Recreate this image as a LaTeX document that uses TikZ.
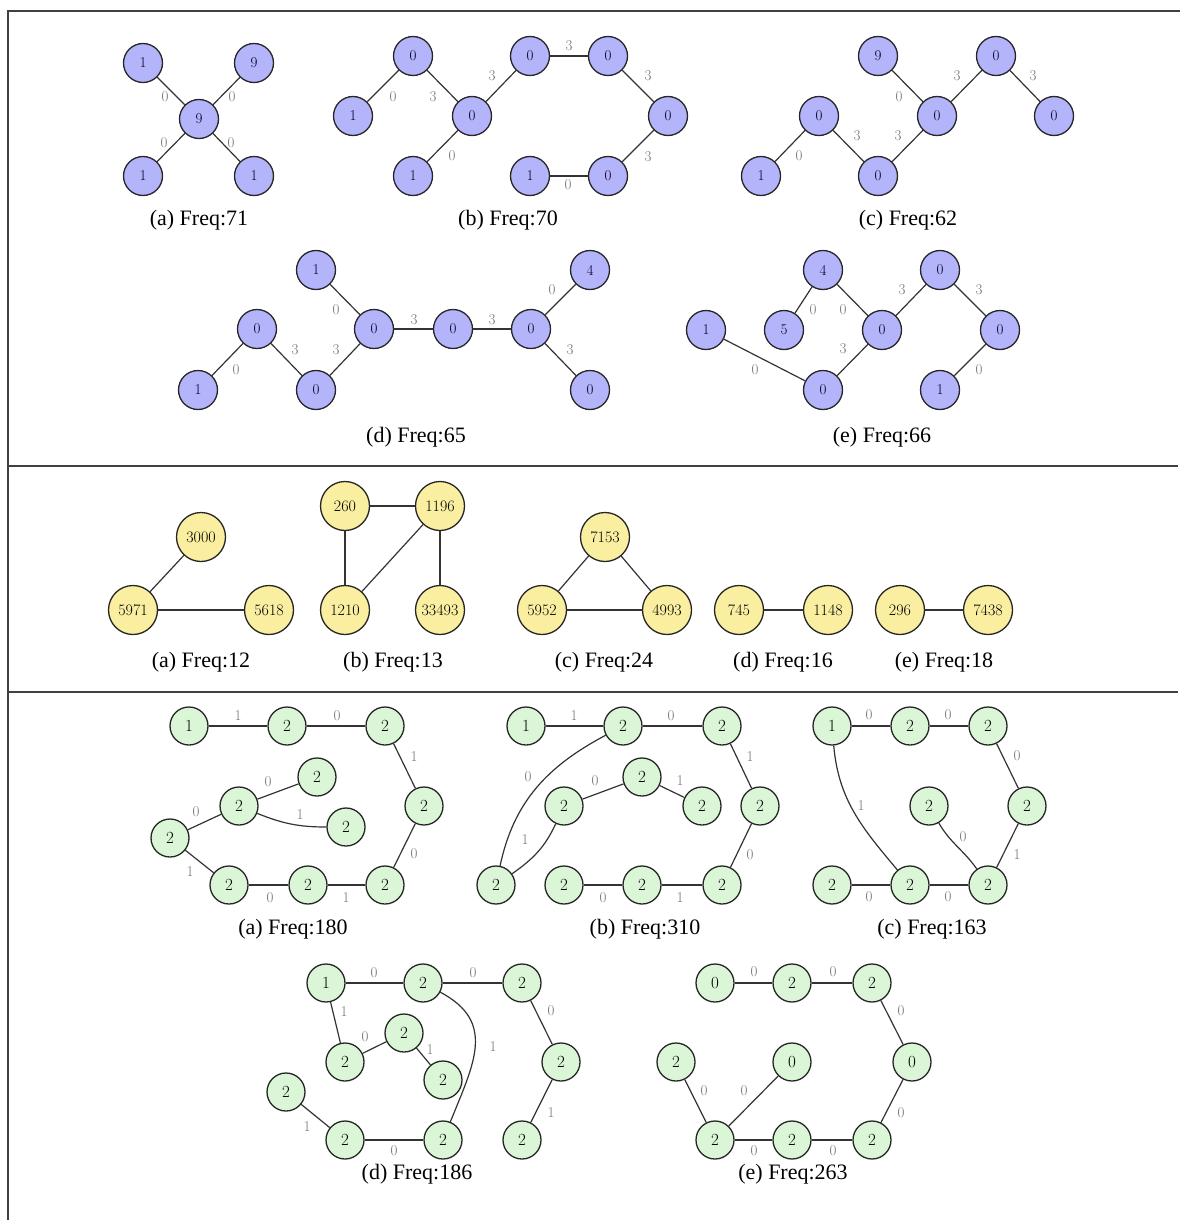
\documentclass[tikz,border=0pt]{standalone}
\usepackage{fontspec}
\newfontfamily\capfont{Liberation Serif}
\definecolor{nodeblue}{RGB}{180,180,250}
\definecolor{nodeyellow}{RGB}{250,238,160}
\definecolor{nodegreen}{RGB}{218,246,214}
\begin{document}
\begin{tikzpicture}[x=1pt,y=-1pt,
  vb/.style={circle,draw=black!85,line width=1.3pt,fill=nodeblue,minimum size=39pt,inner sep=0pt,text=black!85!blue,font=\fontsize{15}{15}\selectfont},
  yb/.style={circle,draw=black!85,line width=1.3pt,fill=nodeyellow,minimum size=49pt,inner sep=0pt,font=\fontsize{16}{16}\selectfont},
  gb/.style={circle,draw=black!85,line width=1.3pt,fill=nodegreen,minimum size=38pt,inner sep=0pt,font=\fontsize{17}{17}\selectfont},
  ed/.style={line width=1.2pt,draw=black!80},
  el/.style={text=black!55,font=\fontsize{15}{15}\selectfont,inner sep=0pt},
  captxt/.style={font=\capfont\fontsize{22}{22}\selectfont},
  frameline/.style={line width=1.5pt,draw=black!75}]

\useasboundingbox (0,0) rectangle (1180,1220);

% frame and separators
\coordinate (fbl) at (8,1220);
\coordinate (ftl) at (8,11);
\coordinate (ftr) at (1180,11);
\coordinate (s1l) at (8,466);
\coordinate (s1r) at (1178,466);
\coordinate (s2l) at (8,692);
\coordinate (s2r) at (1178,692);
\draw[frameline] (fbl) -- (ftl) -- (ftr);
\draw[frameline] (s1l) -- (s1r);
\draw[frameline] (s2l) -- (s2r);

%%%%%%%%%%%%%%%% Section 1 %%%%%%%%%%%%%%%%
% (a)
\node[vb] (a1c) at (199,119) {9};
\node[vb] (a1tl) at (143,63) {1};
\node[vb] (a1tr) at (254,63) {9};
\node[vb] (a1bl) at (143,176) {1};
\node[vb] (a1br) at (254,176) {1};
\draw[ed] (a1c) -- (a1tl);
\draw[ed] (a1c) -- (a1tr);
\draw[ed] (a1c) -- (a1bl);
\draw[ed] (a1c) -- (a1br);
\node[el] (a1e1) at (165,97) {0};
\node[el] (a1e2) at (232,97) {0};
\node[el] (a1e3) at (164,143) {0};
\node[el] (a1e4) at (231,143) {0};
\node[captxt] (a1cap) at (199,220) {(a) Freq:71};

% (b)
\node[vb] (b1t) at (413,56) {0};
\node[vb] (b1l) at (353,116) {1};
\node[vb] (b1c) at (472,116) {0};
\node[vb] (b1bl) at (413,176) {1};
\node[vb] (b1tm) at (530,56) {0};
\node[vb] (b1tr) at (608,56) {0};
\node[vb] (b1r) at (668,116) {0};
\node[vb] (b1br) at (608,176) {0};
\node[vb] (b1bm) at (530,176) {1};
\draw[ed] (b1l) -- (b1t);
\draw[ed] (b1t) -- (b1c);
\draw[ed] (b1c) -- (b1bl);
\draw[ed] (b1c) -- (b1tm);
\draw[ed] (b1tm) -- (b1tr);
\draw[ed] (b1tr) -- (b1r);
\draw[ed] (b1r) -- (b1br);
\draw[ed] (b1br) -- (b1bm);
\node[el] (b1e1) at (393,97) {0};
\node[el] (b1e2) at (433,97) {3};
\node[el] (b1e3) at (452,156) {0};
\node[el] (b1e4) at (492,76) {3};
\node[el] (b1e5) at (569,46) {3};
\node[el] (b1e6) at (648,76) {3};
\node[el] (b1e7) at (648,157) {3};
\node[el] (b1e8) at (568,185) {0};
\node[captxt] (b1cap) at (508,220) {(b) Freq:70};

% (c)
\node[vb] (c1n9) at (878,56) {9};
\node[vb] (c1t) at (996,56) {0};
\node[vb] (c1l) at (819,116) {0};
\node[vb] (c1c) at (937,116) {0};
\node[vb] (c1r) at (1054,116) {0};
\node[vb] (c1one) at (761,176) {1};
\node[vb] (c1b) at (878,176) {0};
\draw[ed] (c1one) -- (c1l);
\draw[ed] (c1l) -- (c1b);
\draw[ed] (c1b) -- (c1c);
\draw[ed] (c1n9) -- (c1c);
\draw[ed] (c1c) -- (c1t);
\draw[ed] (c1t) -- (c1r);
\node[el] (c1e1) at (799,156) {0};
\node[el] (c1e2) at (857,136) {3};
\node[el] (c1e3) at (898,136) {3};
\node[el] (c1e4) at (899,97) {0};
\node[el] (c1e5) at (957,76) {3};
\node[el] (c1e6) at (1033,76) {3};
\node[captxt] (c1cap) at (908,220) {(c) Freq:62};

% (d)
\node[vb] (d1t) at (316,270) {1};
\node[vb] (d1l) at (257,329) {0};
\node[vb] (d1bl) at (198,390) {1};
\node[vb] (d1b) at (316,390) {0};
\node[vb] (d1c) at (374,329) {0};
\node[vb] (d1m) at (453,329) {0};
\node[vb] (d1r) at (531,329) {0};
\node[vb] (d1four) at (590,270) {4};
\node[vb] (d1br) at (590,390) {0};
\draw[ed] (d1bl) -- (d1l);
\draw[ed] (d1l) -- (d1b);
\draw[ed] (d1b) -- (d1c);
\draw[ed] (d1t) -- (d1c);
\draw[ed] (d1c) -- (d1m);
\draw[ed] (d1m) -- (d1r);
\draw[ed] (d1r) -- (d1four);
\draw[ed] (d1r) -- (d1br);
\node[el] (d1e1) at (236,370) {0};
\node[el] (d1e2) at (295,350) {3};
\node[el] (d1e3) at (336,350) {3};
\node[el] (d1e4) at (336,310) {0};
\node[el] (d1e5) at (414,320) {3};
\node[el] (d1e6) at (492,320) {3};
\node[el] (d1e7) at (552,290) {0};
\node[el] (d1e8) at (570,350) {3};
\node[captxt] (d1cap) at (416,437) {(d) Freq:65};

% (e)
\node[vb] (e1one) at (706,330) {1};
\node[vb] (e1five) at (784,330) {5};
\node[vb] (e1four) at (823,270) {4};
\node[vb] (e1c) at (882,330) {0};
\node[vb] (e1b) at (823,390) {0};
\node[vb] (e1t) at (940,270) {0};
\node[vb] (e1r) at (1000,330) {0};
\node[vb] (e1br) at (940,390) {1};
\draw[ed] (e1one) -- (e1b);
\draw[ed] (e1five) -- (e1four);
\draw[ed] (e1four) -- (e1c);
\draw[ed] (e1c) -- (e1b);
\draw[ed] (e1c) -- (e1t);
\draw[ed] (e1t) -- (e1r);
\draw[ed] (e1r) -- (e1br);
\node[el] (e1e1) at (755,370) {0};
\node[el] (e1e2) at (813,310) {0};
\node[el] (e1e3) at (843,310) {0};
\node[el] (e1e4) at (843,349) {3};
\node[el] (e1e5) at (902,290) {3};
\node[el] (e1e6) at (979,290) {3};
\node[el] (e1e7) at (979,370) {0};
\node[captxt] (e1cap) at (882,437) {(e) Freq:66};

%%%%%%%%%%%%%%%% Section 2 %%%%%%%%%%%%%%%%
\node[yb] (a2t) at (201,537) {3000};
\node[yb] (a2l) at (133,610) {5971};
\node[yb] (a2r) at (269,610) {5618};
\draw[ed] (a2l) -- (a2t);
\draw[ed] (a2l) -- (a2r);
\node[captxt] (a2cap) at (201,662) {(a) Freq:12};

\node[yb] (b2tl) at (345,506) {260};
\node[yb] (b2tr) at (440,506) {1196};
\node[yb] (b2bl) at (345,610) {1210};
\node[yb] (b2br) at (440,610) {33493};
\draw[ed] (b2tl) -- (b2tr);
\draw[ed] (b2tl) -- (b2bl);
\draw[ed] (b2tr) -- (b2bl);
\draw[ed] (b2tr) -- (b2br);
\node[captxt] (b2cap) at (393,662) {(b) Freq:13};

\node[yb] (c2t) at (605,537) {7153};
\node[yb] (c2l) at (542,610) {5952};
\node[yb] (c2r) at (667,610) {4993};
\draw[ed] (c2l) -- (c2t);
\draw[ed] (c2t) -- (c2r);
\draw[ed] (c2l) -- (c2r);
\node[captxt] (c2cap) at (604,662) {(c) Freq:24};

\node[yb] (d2l) at (739,610) {745};
\node[yb] (d2r) at (828,610) {1148};
\draw[ed] (d2l) -- (d2r);
\node[captxt] (d2cap) at (783,662) {(d) Freq:16};

\node[yb] (e2l) at (900,610) {296};
\node[yb] (e2r) at (988,610) {7438};
\draw[ed] (e2l) -- (e2r);
\node[captxt] (e2cap) at (944,662) {(e) Freq:18};

%%%%%%%%%%%%%%%% Section 3 %%%%%%%%%%%%%%%%
% (a)
\node[gb] (a3one) at (189,726) {1};
\node[gb] (a3tm) at (287,726) {2};
\node[gb] (a3tr) at (385,726) {2};
\node[gb] (a3r) at (424,806) {2};
\node[gb] (a3br) at (385,885) {2};
\node[gb] (a3bm) at (308,885) {2};
\node[gb] (a3bl) at (229,885) {2};
\node[gb] (a3l) at (170,838) {2};
\node[gb] (a3in) at (239,806) {2};
\node[gb] (a3it) at (317,777) {2};
\node[gb] (a3ir) at (346,827) {2};
\draw[ed] (a3one) -- (a3tm);
\draw[ed] (a3tm) -- (a3tr);
\draw[ed] (a3tr) -- (a3r);
\draw[ed] (a3r) -- (a3br);
\draw[ed] (a3br) -- (a3bm);
\draw[ed] (a3bm) -- (a3bl);
\draw[ed] (a3bl) -- (a3l);
\draw[ed] (a3l) -- (a3in);
\draw[ed] (a3in) -- (a3it);
\draw[ed] (a3in) to[out=-22,in=180] (a3ir);
\node[el] (a3e1) at (238,716) {1};
\node[el] (a3e2) at (337,716) {0};
\node[el] (a3e3) at (414,757) {1};
\node[el] (a3e4) at (414,854) {0};
\node[el] (a3e5) at (346,898) {1};
\node[el] (a3e6) at (270,898) {0};
\node[el] (a3e7) at (190,872) {1};
\node[el] (a3e8) at (196,812) {0};
\node[el] (a3e9) at (268,782) {0};
\node[el] (a3e10) at (300,815) {1};
\node[captxt] (a3cap) at (293,929) {(a) Freq:180};

% (b)
\node[gb] (b3one) at (526,726) {1};
\node[gb] (b3tm) at (623,726) {2};
\node[gb] (b3tr) at (722,726) {2};
\node[gb] (b3r) at (760,806) {2};
\node[gb] (b3br) at (722,885) {2};
\node[gb] (b3bm) at (642,885) {2};
\node[gb] (b3bl) at (564,885) {2};
\node[gb] (b3fl) at (496,885) {2};
\node[gb] (b3in) at (564,806) {2};
\node[gb] (b3it) at (642,777) {2};
\node[gb] (b3ir) at (702,806) {2};
\draw[ed] (b3one) -- (b3tm);
\draw[ed] (b3tm) -- (b3tr);
\draw[ed] (b3tr) -- (b3r);
\draw[ed] (b3r) -- (b3br);
\draw[ed] (b3br) -- (b3bm);
\draw[ed] (b3bm) -- (b3bl);
\draw[ed] (b3in) -- (b3it);
\draw[ed] (b3it) -- (b3ir);
\draw[ed] (b3fl) to[out=35,in=-115] (b3in);
\draw[ed] (b3fl) to[out=78,in=208] (b3tm);
\node[el] (b3e1) at (574,716) {1};
\node[el] (b3e2) at (671,716) {0};
\node[el] (b3e3) at (750,757) {1};
\node[el] (b3e4) at (750,855) {0};
\node[el] (b3e5) at (680,898) {1};
\node[el] (b3e6) at (603,898) {0};
\node[el] (b3e7) at (595,781) {0};
\node[el] (b3e8) at (680,781) {1};
\node[el] (b3e9) at (525,840) {1};
\node[el] (b3e10) at (528,777) {0};
\node[captxt] (b3cap) at (645,929) {(b) Freq:310};

% (c)
\node[gb] (c3one) at (832,726) {1};
\node[gb] (c3tm) at (910,726) {2};
\node[gb] (c3tr) at (988,726) {2};
\node[gb] (c3r) at (1027,806) {2};
\node[gb] (c3in) at (929,806) {2};
\node[gb] (c3br) at (988,885) {2};
\node[gb] (c3bm) at (910,885) {2};
\node[gb] (c3bl) at (832,885) {2};
\draw[ed] (c3one) -- (c3tm);
\draw[ed] (c3tm) -- (c3tr);
\draw[ed] (c3tr) -- (c3r);
\draw[ed] (c3r) -- (c3br);
\draw[ed] (c3br) -- (c3bm);
\draw[ed] (c3bm) -- (c3bl);
\draw[ed] (c3one) to[out=-85,in=130] (c3bm);
\draw[ed] (c3in) to[out=-60,in=125] (c3br);
\node[el] (c3e1) at (869,715) {0};
\node[el] (c3e2) at (948,715) {0};
\node[el] (c3e3) at (1017,756) {0};
\node[el] (c3e4) at (1017,855) {1};
\node[el] (c3e5) at (948,897) {0};
\node[el] (c3e6) at (869,897) {0};
\node[el] (c3e7) at (861,806) {1};
\node[el] (c3e8) at (963,837) {0};
\node[captxt] (c3cap) at (932,929) {(c) Freq:163};

% (d)
\node[gb] (d3one) at (326,983) {1};
\node[gb] (d3tm) at (423,983) {2};
\node[gb] (d3tr) at (522,983) {2};
\node[gb] (d3r) at (561,1062) {2};
\node[gb] (d3br) at (522,1140) {2};
\node[gb] (d3ia) at (345,1062) {2};
\node[gb] (d3it) at (404,1033) {2};
\node[gb] (d3ir) at (443,1080) {2};
\node[gb] (d3fl) at (286,1092) {2};
\node[gb] (d3bl) at (345,1140) {2};
\node[gb] (d3bm) at (443,1140) {2};
\draw[ed] (d3one) -- (d3tm);
\draw[ed] (d3tm) -- (d3tr);
\draw[ed] (d3tr) -- (d3r);
\draw[ed] (d3r) -- (d3br);
\draw[ed] (d3one) -- (d3ia);
\draw[ed] (d3ia) -- (d3it);
\draw[ed] (d3it) -- (d3ir);
\draw[ed] (d3fl) -- (d3bl);
\draw[ed] (d3bl) -- (d3bm);
\draw[ed] (d3tm) to[out=-28,in=68,looseness=1.25] (d3bm);
\node[el] (d3e1) at (374,973) {0};
\node[el] (d3e2) at (473,973) {0};
\node[el] (d3e3) at (551,1011) {0};
\node[el] (d3e4) at (551,1113) {1};
\node[el] (d3e5) at (344,1012) {1};
\node[el] (d3e6) at (365,1037) {0};
\node[el] (d3e7) at (430,1050) {1};
\node[el] (d3e8) at (307,1127) {1};
\node[el] (d3e9) at (394,1151) {0};
\node[el] (d3e10) at (493,1047) {1};
\node[captxt] (d3cap) at (417,1174) {(d) Freq:186};

% (e)
\node[gb] (e3tl) at (715,983) {0};
\node[gb] (e3tm) at (792,983) {2};
\node[gb] (e3tr) at (872,983) {2};
\node[gb] (e3r) at (912,1062) {0};
\node[gb] (e3l) at (676,1062) {2};
\node[gb] (e3in) at (792,1062) {0};
\node[gb] (e3bl) at (715,1140) {2};
\node[gb] (e3bm) at (792,1140) {2};
\node[gb] (e3br) at (872,1140) {2};
\draw[ed] (e3tl) -- (e3tm);
\draw[ed] (e3tm) -- (e3tr);
\draw[ed] (e3tr) -- (e3r);
\draw[ed] (e3r) -- (e3br);
\draw[ed] (e3l) -- (e3bl);
\draw[ed] (e3bl) -- (e3in);
\draw[ed] (e3bl) -- (e3bm);
\draw[ed] (e3bm) -- (e3br);
\node[el] (e3e1) at (754,972) {0};
\node[el] (e3e2) at (833,972) {0};
\node[el] (e3e3) at (901,1011) {0};
\node[el] (e3e4) at (901,1113) {0};
\node[el] (e3e5) at (704,1091) {0};
\node[el] (e3e6) at (744,1091) {0};
\node[el] (e3e7) at (754,1151) {0};
\node[el] (e3e8) at (833,1151) {0};
\node[captxt] (e3cap) at (793,1174) {(e) Freq:263};

\end{tikzpicture}
\end{document}
